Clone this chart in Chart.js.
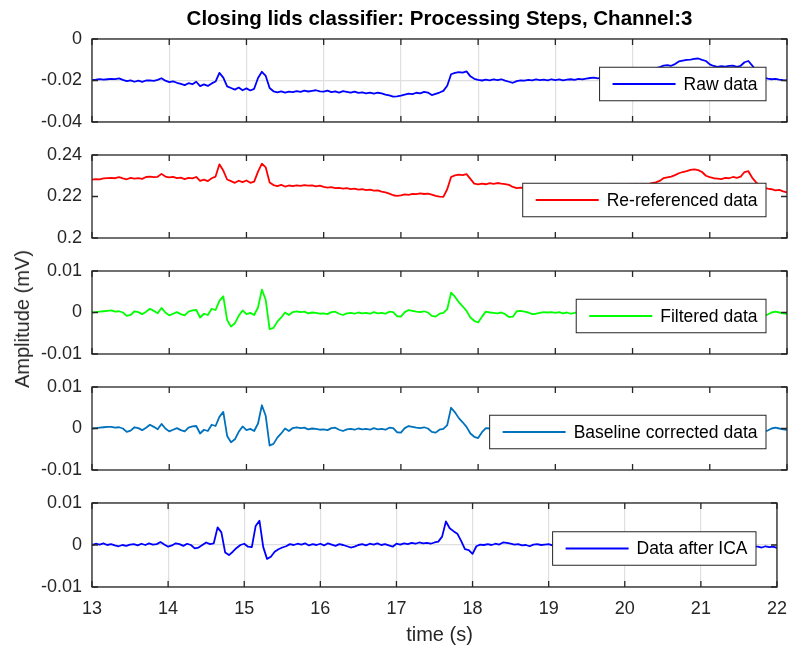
<!DOCTYPE html>
<html>
<head>
<meta charset="utf-8">
<script src="https://cdn.jsdelivr.net/npm/chart.js@4/dist/chart.umd.min.js"></script>
<style>
  html, body { margin: 0; padding: 0; background: #ffffff; }
  #fig { position: relative; width: 798px; height: 649px; overflow: hidden;
         font-family: "Liberation Sans", Arial, Helvetica, sans-serif; color: #262626; }
  #fig canvas { position: absolute; left: 0; top: 0; }
  .txt { position: absolute; white-space: nowrap; line-height: 1; transform: translate(-50%, -50%); }
  #title { left: 439.5px; top: 18px; font-size: 20.5px; font-weight: bold; color: #000; }
  #xlabel { left: 439.5px; top: 634px; font-size: 20px; }
  #ylabel { left: 22px; top: 319px; font-size: 20px; transform: translate(-50%, -50%) rotate(-90deg); }
</style>
</head>
<body>
<div id="fig">
  <canvas id="p1" width="798" height="649"></canvas>
  <canvas id="p2" width="798" height="649"></canvas>
  <canvas id="p3" width="798" height="649"></canvas>
  <canvas id="p4" width="798" height="649"></canvas>
  <canvas id="p5" width="798" height="649"></canvas>
  <div class="txt" id="title">Closing lids classifier: Processing Steps, Channel:3</div>
  <div class="txt" id="xlabel">time (s)</div>
  <div class="txt" id="ylabel">Amplitude (mV)</div>
</div>
<script>
// Channel 3 samples, 13 s to 22 s, one value every 0.05 s (mV)
const sampleStart = 13;
const sampleStep = 0.05;

const rawData = [
  -0.0198,-0.0196,-0.0193,-0.0196,-0.0194,-0.0192,-0.0193,-0.0190,-0.0197,-0.0203,-0.0199,-0.0206,-0.0201,-0.0207,-0.0200,-0.0199,-0.0202,-0.0197,-0.0189,-0.0201,
  -0.0208,-0.0204,-0.0211,-0.0216,-0.0222,-0.0213,-0.0218,-0.0206,-0.0227,-0.0219,-0.0226,-0.0214,-0.0205,-0.0163,-0.0186,-0.0228,-0.0236,-0.0244,-0.0234,-0.0247,
  -0.0238,-0.0248,-0.0240,-0.0188,-0.0158,-0.0178,-0.0236,-0.0252,-0.0257,-0.0252,-0.0258,-0.0254,-0.0256,-0.0251,-0.0255,-0.0249,-0.0253,-0.0250,-0.0247,-0.0252,
  -0.0254,-0.0249,-0.0256,-0.0252,-0.0258,-0.0251,-0.0255,-0.0259,-0.0254,-0.0260,-0.0257,-0.0262,-0.0258,-0.0263,-0.0259,-0.0262,-0.0268,-0.0272,-0.0278,-0.0276,
  -0.0273,-0.0268,-0.0263,-0.0266,-0.0259,-0.0262,-0.0255,-0.0258,-0.0270,-0.0264,-0.0258,-0.0250,-0.0225,-0.0170,-0.0163,-0.0160,-0.0162,-0.0156,-0.0180,-0.0192,
  -0.0197,-0.0200,-0.0196,-0.0199,-0.0195,-0.0198,-0.0194,-0.0201,-0.0206,-0.0211,-0.0203,-0.0199,-0.0201,-0.0197,-0.0199,-0.0195,-0.0198,-0.0196,-0.0199,-0.0194,
  -0.0198,-0.0195,-0.0199,-0.0196,-0.0194,-0.0197,-0.0192,-0.0195,-0.0191,-0.0188,-0.0186,-0.0190,-0.0187,-0.0184,-0.0186,-0.0182,-0.0179,-0.0181,-0.0176,-0.0174,
  -0.0172,-0.0168,-0.0163,-0.0159,-0.0152,-0.0148,-0.0141,-0.0136,-0.0128,-0.0126,-0.0129,-0.0121,-0.0108,-0.0104,-0.0101,-0.0099,-0.0096,-0.0094,-0.0101,-0.0106,
  -0.0122,-0.0130,-0.0134,-0.0131,-0.0133,-0.0130,-0.0128,-0.0134,-0.0129,-0.0112,-0.0106,-0.0128,-0.0152,-0.0171,-0.0186,-0.0191,-0.0194,-0.0192,-0.0196,-0.0198,
  -0.0199
];

const rereferencedData = [
  0.2281,0.2284,0.2283,0.2287,0.2289,0.2290,0.2288,0.2293,0.2287,0.2283,0.2290,0.2286,0.2289,0.2285,0.2294,0.2296,0.2293,0.2295,0.2309,0.2296,
  0.2292,0.2295,0.2289,0.2291,0.2284,0.2290,0.2287,0.2294,0.2275,0.2281,0.2274,0.2288,0.2296,0.2355,0.2325,0.2282,0.2274,0.2266,0.2276,0.2269,
  0.2277,0.2266,0.2272,0.2320,0.2358,0.2340,0.2268,0.2255,0.2250,0.2256,0.2248,0.2253,0.2250,0.2254,0.2251,0.2255,0.2252,0.2254,0.2249,0.2252,
  0.2246,0.2243,0.2245,0.2240,0.2242,0.2238,0.2240,0.2236,0.2238,0.2233,0.2235,0.2231,0.2233,0.2228,0.2230,0.2224,0.2220,0.2214,0.2206,0.2203,
  0.2205,0.2210,0.2208,0.2213,0.2211,0.2215,0.2212,0.2214,0.2209,0.2203,0.2199,0.2198,0.2235,0.2294,0.2302,0.2305,0.2303,0.2308,0.2285,0.2262,
  0.2258,0.2262,0.2259,0.2264,0.2261,0.2265,0.2262,0.2260,0.2256,0.2246,0.2240,0.2243,0.2241,0.2245,0.2242,0.2246,0.2243,0.2247,0.2244,0.2248,
  0.2245,0.2250,0.2247,0.2252,0.2246,0.2251,0.2249,0.2254,0.2248,0.2253,0.2251,0.2256,0.2250,0.2255,0.2253,0.2258,0.2252,0.2257,0.2255,0.2259,
  0.2256,0.2259,0.2257,0.2261,0.2260,0.2264,0.2268,0.2275,0.2288,0.2292,0.2296,0.2303,0.2312,0.2318,0.2322,0.2328,0.2331,0.2327,0.2318,0.2300,
  0.2293,0.2288,0.2286,0.2284,0.2290,0.2288,0.2294,0.2290,0.2296,0.2318,0.2322,0.2290,0.2268,0.2252,0.2243,0.2238,0.2235,0.2230,0.2232,0.2225,
  0.2220
];

const filteredData = [
  0.0000,0.0001,0.0002,0.0003,0.0004,0.0005,0.0002,0.0003,0.0000,-0.0008,-0.0006,0.0003,0.0001,-0.0004,0.0002,0.0009,0.0004,-0.0002,0.0011,0.0000,
  -0.0007,-0.0003,0.0001,-0.0004,-0.0007,0.0002,0.0005,0.0006,-0.0012,-0.0003,-0.0006,0.0009,0.0006,0.0028,0.0039,-0.0018,-0.0034,-0.0026,-0.0008,0.0005,
  -0.0004,-0.0001,-0.0006,0.0012,0.0055,0.0030,-0.0040,-0.0037,-0.0022,-0.0012,0.0000,-0.0006,0.0001,0.0003,0.0001,0.0002,-0.0002,0.0000,-0.0001,-0.0003,
  -0.0002,-0.0004,0.0001,0.0002,-0.0003,-0.0006,-0.0002,-0.0001,-0.0003,0.0000,-0.0002,-0.0001,-0.0003,0.0001,-0.0002,-0.0001,-0.0003,0.0002,0.0001,-0.0009,
  -0.0010,0.0001,0.0006,0.0004,0.0002,0.0001,0.0003,0.0000,-0.0008,-0.0010,-0.0003,-0.0001,0.0008,0.0048,0.0038,0.0025,0.0015,0.0004,-0.0012,-0.0020,
  -0.0024,-0.0010,0.0002,0.0000,-0.0001,-0.0002,0.0000,-0.0004,-0.0011,-0.0010,0.0003,0.0004,0.0002,0.0000,-0.0004,-0.0003,-0.0001,0.0001,0.0000,0.0001,
  -0.0001,0.0001,-0.0002,0.0000,-0.0003,-0.0001,0.0002,0.0000,-0.0002,0.0001,0.0003,0.0000,-0.0002,0.0001,0.0002,-0.0001,0.0000,0.0002,-0.0001,0.0001,
  0.0003,0.0000,-0.0003,-0.0001,0.0002,0.0004,0.0001,-0.0002,0.0000,0.0003,0.0005,0.0002,-0.0001,0.0001,0.0004,0.0002,-0.0002,-0.0004,-0.0001,0.0002,
  0.0003,0.0000,-0.0002,0.0001,0.0003,0.0001,-0.0001,0.0002,0.0005,0.0003,0.0000,-0.0003,-0.0005,-0.0004,-0.0006,-0.0005,0.0000,0.0002,0.0000,-0.0002,
  -0.0003
];

const baselineCorrectedData = [
  0.0000,0.0001,0.0002,0.0003,0.0004,0.0004,0.0002,0.0003,0.0000,-0.0008,-0.0005,0.0003,0.0001,-0.0004,0.0002,0.0009,0.0004,-0.0002,0.0011,0.0000,
  -0.0007,-0.0003,0.0001,-0.0004,-0.0007,0.0002,0.0005,0.0006,-0.0012,-0.0003,-0.0006,0.0009,0.0006,0.0028,0.0040,-0.0018,-0.0033,-0.0026,-0.0008,0.0005,
  -0.0004,-0.0001,-0.0006,0.0012,0.0056,0.0030,-0.0041,-0.0037,-0.0022,-0.0012,0.0000,-0.0006,0.0001,0.0003,0.0001,0.0002,-0.0002,0.0000,-0.0001,-0.0003,
  -0.0002,-0.0004,0.0001,0.0002,-0.0003,-0.0006,-0.0002,-0.0001,-0.0003,0.0000,-0.0002,-0.0001,-0.0003,0.0001,-0.0002,-0.0001,-0.0003,0.0002,0.0001,-0.0009,
  -0.0010,0.0001,0.0006,0.0004,0.0002,0.0001,0.0003,0.0000,-0.0008,-0.0010,-0.0003,-0.0001,0.0008,0.0050,0.0039,0.0025,0.0015,0.0004,-0.0012,-0.0020,
  -0.0023,-0.0009,0.0001,0.0000,-0.0001,-0.0002,0.0000,-0.0004,-0.0011,-0.0010,0.0003,0.0004,0.0002,0.0000,-0.0004,-0.0003,-0.0001,0.0001,0.0000,0.0001,
  -0.0001,0.0001,-0.0002,0.0000,-0.0003,-0.0001,0.0002,0.0000,-0.0002,0.0001,0.0003,0.0000,-0.0002,0.0001,0.0002,-0.0001,0.0000,0.0002,-0.0001,0.0001,
  0.0003,0.0000,-0.0003,-0.0001,0.0002,0.0004,0.0001,-0.0002,0.0000,0.0003,0.0005,0.0002,-0.0001,0.0001,0.0004,0.0002,-0.0002,-0.0004,-0.0001,0.0002,
  0.0003,0.0000,-0.0002,0.0001,0.0003,0.0001,-0.0001,0.0002,0.0005,0.0003,0.0000,-0.0003,-0.0005,-0.0004,-0.0006,-0.0005,0.0000,0.0002,0.0000,-0.0002,
  -0.0003
];

const icaData = [
  0.0000,0.0003,0.0001,0.0004,0.0000,0.0002,-0.0001,-0.0003,0.0000,-0.0002,0.0001,0.0002,-0.0001,0.0003,0.0000,0.0004,0.0001,0.0002,0.0007,0.0001,
  -0.0004,-0.0001,0.0004,0.0002,-0.0002,0.0003,0.0000,-0.0008,-0.0006,0.0000,0.0006,0.0002,0.0004,0.0042,0.0030,-0.0018,-0.0024,-0.0016,-0.0007,0.0000,
  0.0003,-0.0004,-0.0005,0.0045,0.0058,-0.0005,-0.0033,-0.0028,-0.0016,-0.0010,-0.0006,-0.0003,0.0002,0.0000,0.0003,0.0001,0.0004,-0.0001,0.0002,0.0000,
  0.0003,-0.0001,0.0004,0.0001,-0.0002,0.0002,0.0000,-0.0003,-0.0006,-0.0004,0.0000,0.0002,-0.0001,0.0003,0.0001,0.0004,0.0000,0.0002,-0.0001,-0.0004,
  0.0003,0.0001,0.0004,0.0002,0.0005,0.0003,0.0006,0.0004,0.0005,0.0003,0.0006,0.0008,0.0020,0.0056,0.0040,0.0033,0.0027,0.0010,-0.0010,-0.0012,
  -0.0021,-0.0003,0.0001,0.0000,0.0002,0.0000,0.0003,0.0001,0.0006,0.0005,0.0003,0.0001,0.0002,-0.0001,0.0000,-0.0003,0.0001,0.0002,0.0000,0.0001,
  0.0002,-0.0001,0.0001,0.0003,0.0000,-0.0002,0.0001,0.0002,-0.0001,0.0000,0.0003,0.0001,-0.0002,0.0000,0.0002,-0.0001,0.0001,0.0003,0.0000,-0.0002,
  0.0001,0.0003,0.0000,-0.0002,0.0001,0.0002,-0.0001,0.0000,0.0002,0.0004,0.0001,-0.0001,0.0000,0.0002,-0.0002,-0.0001,0.0001,0.0000,-0.0003,-0.0001,
  0.0000,0.0002,-0.0001,0.0001,0.0000,-0.0002,-0.0001,0.0001,-0.0003,-0.0002,0.0000,-0.0004,-0.0003,-0.0005,-0.0004,-0.0004,-0.0006,-0.0003,-0.0005,-0.0004,
  -0.0007
];

const timeTicks = [13, 14, 15, 16, 17, 18, 19, 20, 21, 22];
const rawTicks = [-0.04, -0.02, 0];
const rereferencedTicks = [0.2, 0.22, 0.24];
const smallTicks = [-0.01, 0, 0.01];

const seriesNames = ['Raw data', 'Re-referenced data', 'Filtered data', 'Baseline corrected data', 'Data after ICA'];

const FONT = '"Liberation Sans", Arial, Helvetica, sans-serif';
const INK = '#262626';
const W = 798, H = 649;

Chart.defaults.font.family = FONT;

// subplot stack: axes box top/bottom in page pixels
const panels = [
  { id: 'p1', values: rawData,               label: seriesNames[0], color: '#0000ff', yTicks: rawTicks,          top: 39,  bottom: 122, grid: true,  showTime: false },
  { id: 'p2', values: rereferencedData,      label: seriesNames[1], color: '#ff0000', yTicks: rereferencedTicks, top: 155, bottom: 238, grid: false, showTime: false },
  { id: 'p3', values: filteredData,          label: seriesNames[2], color: '#00ff00', yTicks: smallTicks,        top: 271, bottom: 354, grid: false, showTime: false },
  { id: 'p4', values: baselineCorrectedData, label: seriesNames[3], color: '#0072bd', yTicks: smallTicks,        top: 387, bottom: 470, grid: false, showTime: false },
  { id: 'p5', values: icaData,               label: seriesNames[4], color: '#0000ff', yTicks: smallTicks,        top: 503, bottom: 587, grid: true,  showTime: true  }
];

const fmt = v => String(Number(Number(v).toFixed(4)));

// box around the axes, inward tick marks on all four sides, and a framed legend
const axesFrame = {
  id: 'axesFrame',
  afterDatasetsDraw(chart, args, opts) {
    const { ctx, chartArea: a, scales } = chart;
    const tl = 6;
    ctx.save();
    ctx.strokeStyle = INK;
    ctx.lineWidth = 1.3;
    ctx.beginPath();
    scales.x.ticks.forEach(t => {
      const px = scales.x.getPixelForValue(t.value);
      ctx.moveTo(px, a.top); ctx.lineTo(px, a.top + tl);
      ctx.moveTo(px, a.bottom); ctx.lineTo(px, a.bottom - tl);
    });
    scales.y.ticks.forEach(t => {
      const py = scales.y.getPixelForValue(t.value);
      ctx.moveTo(a.left, py); ctx.lineTo(a.left + tl, py);
      ctx.moveTo(a.right, py); ctx.lineTo(a.right - tl, py);
    });
    ctx.stroke();
    ctx.strokeRect(a.left, a.top, a.right - a.left, a.bottom - a.top);

    // legend
    ctx.font = '17.5px ' + FONT;
    const tw = ctx.measureText(opts.text).width;
    const boxRight = a.right - 21;
    const textRight = boxRight - 8.5;
    const textLeft = textRight - tw;
    const lineRight = textLeft - 8;
    const lineLeft = lineRight - 63;
    const boxLeft = lineLeft - 13;
    const cy = (a.top + a.bottom) / 2 + 3.5;
    const bh = 33.5;
    ctx.fillStyle = '#ffffff';
    ctx.fillRect(boxLeft, cy - bh / 2, boxRight - boxLeft, bh);
    ctx.lineWidth = 1;
    ctx.strokeStyle = INK;
    ctx.strokeRect(boxLeft, cy - bh / 2, boxRight - boxLeft, bh);
    ctx.strokeStyle = opts.color;
    ctx.lineWidth = 1.8;
    ctx.beginPath();
    ctx.moveTo(lineLeft, cy); ctx.lineTo(lineRight, cy);
    ctx.stroke();
    ctx.fillStyle = '#000000';
    ctx.textBaseline = 'middle';
    ctx.textAlign = 'left';
    ctx.fillText(opts.text, textLeft, cy + 1);
    ctx.restore();
  }
};

panels.forEach(p => {
  const points = p.values.map((v, i) => ({ x: sampleStart + i * sampleStep, y: v }));
  const yMin = p.yTicks[0], yMax = p.yTicks[p.yTicks.length - 1];
  new Chart(document.getElementById(p.id), {
    type: 'line',
    data: {
      datasets: [{
        label: p.label,
        data: points,
        borderColor: p.color,
        borderWidth: 1.8,
        pointRadius: 0,
        tension: 0,
        fill: false,
        borderJoinStyle: 'round'
      }]
    },
    options: {
      responsive: false,
      animation: false,
      devicePixelRatio: 1,
      events: [],
      layout: { padding: { left: 0, right: W - 787, top: p.top, bottom: p.showTime ? 0 : H - p.bottom } },
      plugins: {
        legend: { display: false },
        tooltip: { enabled: false },
        title: { display: false },
        axesFrame: { text: p.label, color: p.color }
      },
      scales: {
        x: {
          type: 'linear',
          min: timeTicks[0],
          max: timeTicks[timeTicks.length - 1],
          afterBuildTicks: s => { s.ticks = timeTicks.map(v => ({ value: v })); },
          afterFit: s => { s.height = p.showTime ? H - p.bottom : 0; },
          grid: { display: p.grid, color: '#dfdfdf', lineWidth: 1.2, drawTicks: false },
          border: { display: false },
          ticks: {
            display: p.showTime,
            padding: 11,
            color: INK,
            font: { size: 18 },
            maxRotation: 0,
            autoSkip: false,
            callback: v => fmt(v)
          }
        },
        y: {
          type: 'linear',
          min: yMin,
          max: yMax,
          afterBuildTicks: s => { s.ticks = p.yTicks.map(v => ({ value: v })); },
          afterFit: s => { s.width = 92; },
          grid: { display: p.grid, color: '#dfdfdf', lineWidth: 1.2, drawTicks: false },
          border: { display: false },
          ticks: {
            padding: 10,
            color: INK,
            font: { size: 18 },
            autoSkip: false,
            callback: v => fmt(v)
          }
        }
      }
    },
    plugins: [axesFrame]
  });
});
</script>
</body>
</html>
